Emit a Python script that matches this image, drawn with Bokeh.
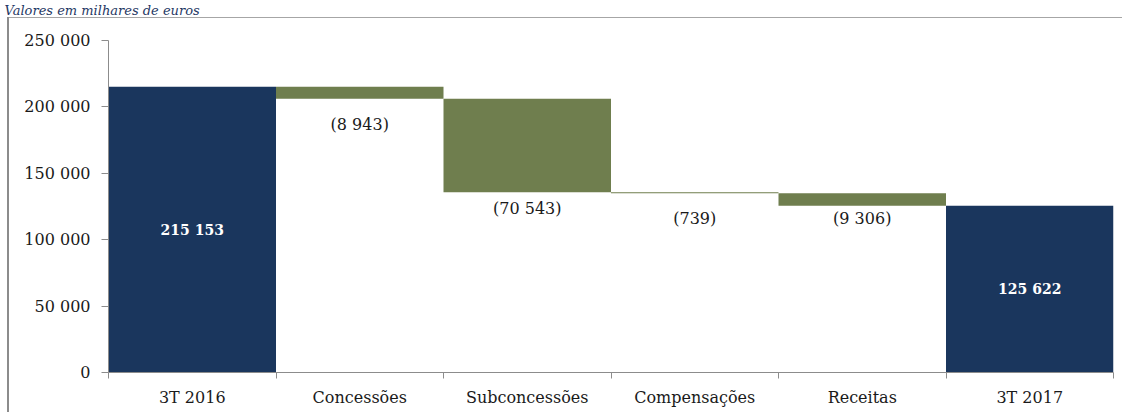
from bokeh.plotting import figure
from bokeh.models import Range1d, FixedTicker, ColumnDataSource, Title
from bokeh.core.properties import value
from bokeh.embed import file_html
from bokeh.resources import INLINE

# ---- data ----
categories = ["3T 2016", "Concessões", "Subconcessões", "Compensações", "Receitas", "3T 2017"]
start_total = 215153
changes = [-8943, -70543, -739, -9306]
end_total = 125622
y_ticks = [0, 50000, 100000, 150000, 200000, 250000]
caption = "Valores em milhares de euros"

# ---- styles ----
NAVY = "#1A365D"
GREEN = "#6F7E4E"
AXIS = "#8C8C8C"
TEXT = "#1A1A1A"
FONT = "DejaVu Serif"
label_pixel_offsets = [26, 16, 25, 13]  # drop of each change label below its bar (px)


def fmt(v):
    s = f"{abs(v):,}".replace(",", " ")
    return f"({s})" if v < 0 else s


# ---- waterfall geometry derived from the data ----
lefts, rights, bottoms, tops, colors = [0], [1], [0], [start_total], [NAVY]
level = start_total
for i, c in enumerate(changes):
    new = level + c
    lefts.append(i + 1); rights.append(i + 2)
    bottoms.append(min(level, new)); tops.append(max(level, new)); colors.append(GREEN)
    level = new
lefts.append(len(categories) - 1); rights.append(len(categories))
bottoms.append(0); tops.append(end_total); colors.append(NAVY)
bars = ColumnDataSource(dict(left=lefts, right=rights, bottom=bottoms, top=tops, color=colors))

frame_css = ("linear-gradient(#8c8c8c,#8c8c8c) 7px 17px / 2px 100% no-repeat, "
             "linear-gradient(#a6a6a6,#a6a6a6) 7px 17px / 100% 1px no-repeat, white")

p = figure(width=1122, height=412, output_backend="svg", toolbar_location=None,
           x_range=Range1d(0, len(categories)), y_range=Range1d(0, 250000),
           min_border_left=108, min_border_right=9, min_border_top=40, min_border_bottom=40,
           styles={"background": frame_css})
p.outline_line_color = None
p.border_fill_color = None
p.background_fill_color = "white"
p.xgrid.visible = False
p.ygrid.visible = False

# spacer between frame and caption, then the caption itself (outermost)
p.add_layout(Title(text=" ", text_font_size="19px", standoff=0), "above")
p.add_layout(Title(text=caption, text_font=FONT, text_font_style="italic",
                   text_font_size="13px", text_color="#1F3864", align="left",
                   offset=-104, standoff=0), "above")

p.quad(left="left", right="right", bottom="bottom", top="top", color="color",
       line_color=None, source=bars)

# totals inside the dark bars
p.text(x=[0.5, len(categories) - 0.5], y=[start_total / 2, end_total / 2],
       text=[fmt(start_total), fmt(end_total)],
       text_color="white", text_font=value(FONT), text_font_style="bold",
       text_font_size="14px", text_align="center", text_baseline="middle")

# changes below their bars
lvl = start_total
for i, c in enumerate(changes):
    new = lvl + c
    p.text(x=[i + 1.5], y=[min(lvl, new)], text=[fmt(c)],
           y_offset=label_pixel_offsets[i],
           text_color=TEXT, text_font=value(FONT), text_font_size="16px",
           text_align="center", text_baseline="middle")
    lvl = new

yax = p.yaxis[0]
yax.ticker = FixedTicker(ticks=y_ticks, minor_ticks=[])
yax.major_label_overrides = {t: fmt(t) for t in y_ticks}
yax.axis_line_color = AXIS
yax.major_tick_line_color = AXIS
yax.major_tick_out = 7
yax.major_tick_in = 0
yax.minor_tick_line_color = None
yax.major_label_standoff = 11
yax.major_label_text_font = FONT
yax.major_label_text_font_size = "16px"
yax.major_label_text_color = TEXT

xax = p.xaxis[0]
centres = [i + 0.5 for i in range(len(categories))]
xax.ticker = FixedTicker(ticks=centres, minor_ticks=list(range(len(categories) + 1)))
xax.major_label_overrides = {c: n for c, n in zip(centres, categories)}
xax.axis_line_color = AXIS
xax.major_tick_line_color = None
xax.major_tick_out = 0
xax.major_tick_in = 0
xax.minor_tick_line_color = AXIS
xax.minor_tick_out = 6
xax.minor_tick_in = 0
xax.major_label_standoff = 9
xax.major_label_text_font = FONT
xax.major_label_text_font_size = "16px"
xax.major_label_text_color = TEXT

open("out.html", "w").write(file_html(p, INLINE))
